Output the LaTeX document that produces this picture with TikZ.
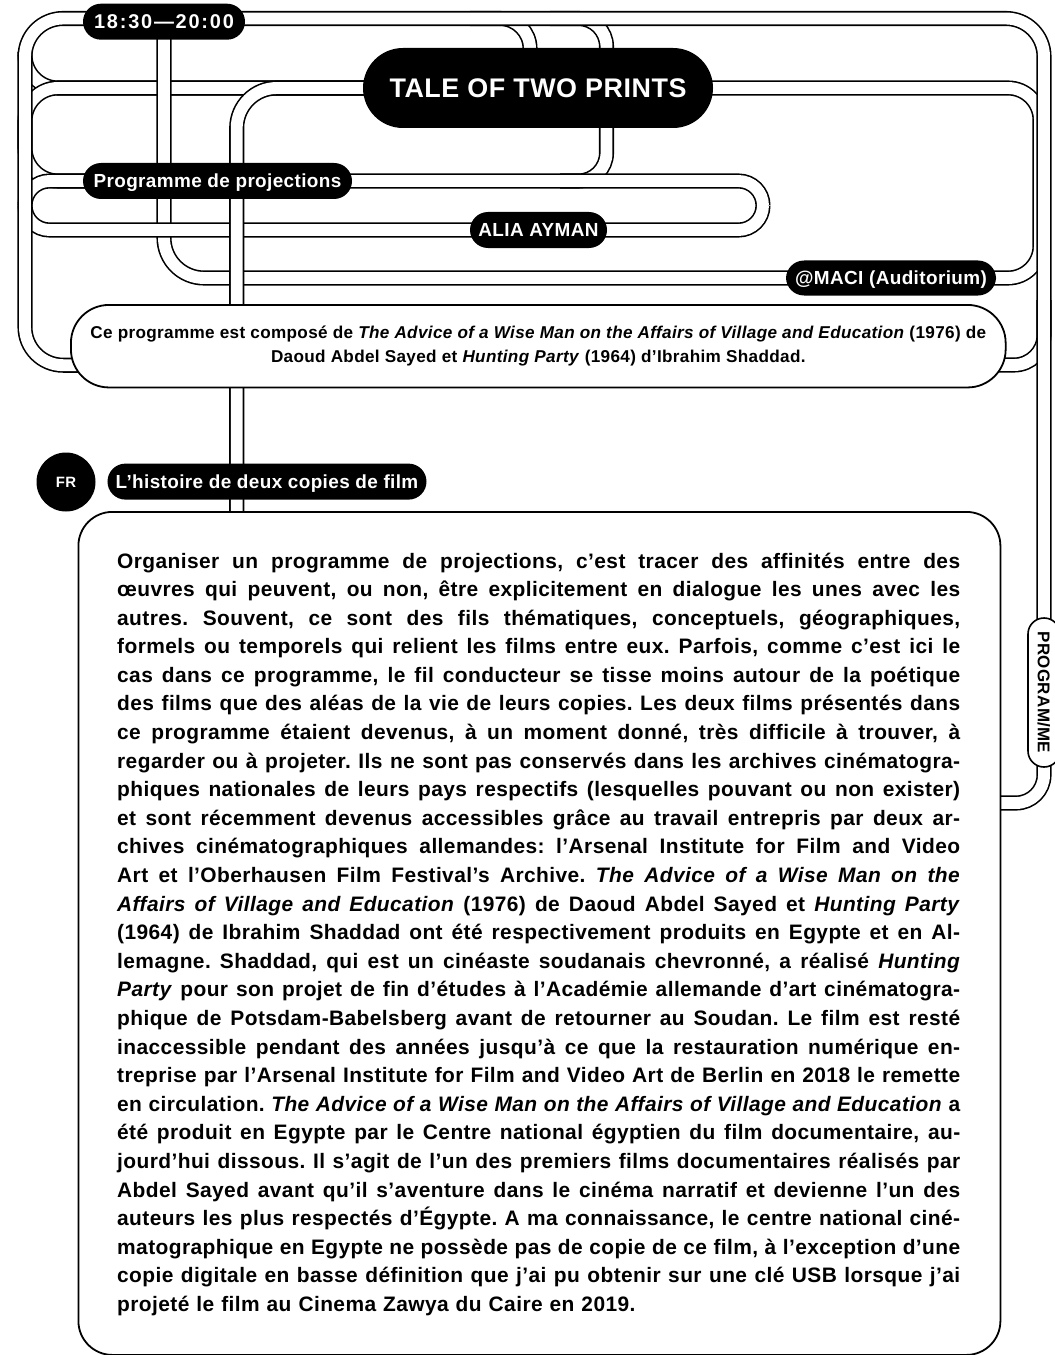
\documentclass[tikz,border=0pt]{standalone}
\usepackage{fontspec}
\setmainfont{Liberation Sans}[LetterSpace=2]
\usetikzlibrary{backgrounds}

\tikzset{
  track/.style={draw=black, line width=1.6bp, double=white, double distance=11.9bp, rounded corners=#1},
  track/.default=38bp,
  pill/.style={fill=black, text=white, rounded corners=18bp, inner sep=0pt, minimum height=36bp,
    text height=13.6bp, text depth=0bp, font=\bfseries\fontsize{19}{19}\selectfont},
  panel/.style={draw=black, fill=white, line width=1.8bp, rounded corners=#1},
  panel/.default=36bp,
}
\newcommand{\jline}[1]{\noindent\hbox to 843bp{\frenchspacing\spaceskip=0.26em plus 1em minus 0.1em\relax #1}\par}

\begin{document}
\begin{tikzpicture}[x=1bp, y=-1bp]
  \useasboundingbox (0,0) rectangle (1054,1355);

  \node[pill, minimum width=162bp, font=\bfseries\fontsize{20}{20}\selectfont] (time) at (164,21.7)
    {\addfontfeature{LetterSpace=9}18:30—20:00};
  \node[pill, minimum width=350bp, minimum height=80bp, rounded corners=40bp, text height=19.3bp,
    font=\bfseries\fontsize{27}{27}\selectfont] (tale) at (538,88) {TALE OF TWO PRINTS};
  \node[pill, minimum width=269bp] (prog) at (217.5,181) {Programme de projections};
  \node[pill, minimum width=137bp] (alia) at (538.5,230) {ALIA AYMAN};
  \node[pill, minimum width=210bp, minimum height=35bp] (maci) at (891,278) {@MACI (Auditorium)};
  \node[panel=38bp, minimum width=934.7bp, minimum height=82.5bp, inner sep=0pt, align=center,
    font=\bfseries\fontsize{17.2}{24}\selectfont] (cebox) at (538.3,346.2)
    {Ce programme est composé de \textit{The Advice of a Wise Man on the Affairs of Village and Education} (1976) de\\
     Daoud Abdel Sayed et \textit{Hunting Party} (1964) d’Ibrahim Shaddad.};
  \node[circle, fill=black, text=white, minimum size=59bp, inner sep=0pt,
    font=\bfseries\fontsize{15}{15}\selectfont] (fr) at (66,482) {FR};
  \node[pill, minimum width=319bp] (hist) at (267,481.6) {L’histoire de deux copies de film};
  \node[panel=34bp, minimum width=922bp, minimum height=843bp, anchor=north west] (mainbox) at (77.5,511) {};
  \node[anchor=base west, inner sep=0pt, text width=843bp,
    font=\bfseries\fontsize{21}{28.7}\selectfont] (body) at (117,568) {%
    \jline{Organiser un programme de projections, c’est tracer des affinités entre des}
    \jline{œuvres qui peuvent, ou non, être explicitement en dialogue les unes avec les}
    \jline{autres. Souvent, ce sont des fils thématiques, conceptuels, géographiques,}
    \jline{formels ou temporels qui relient les films entre eux. Parfois, comme c’est ici le}
    \jline{cas dans ce programme, le fil conducteur se tisse moins autour de la poétique}
    \jline{des films que des aléas de la vie de leurs copies. Les deux films présentés dans}
    \jline{ce programme étaient devenus, à un moment donné, très difficile à trouver, à}
    \jline{regarder ou à projeter. Ils ne sont pas conservés dans les archives cinématogra-}
    \jline{phiques nationales de leurs pays respectifs (lesquelles pouvant ou non exister)}
    \jline{et sont récemment devenus accessibles grâce au travail entrepris par deux ar-}
    \jline{chives cinématographiques allemandes: l’Arsenal Institute for Film and Video}
    \jline{Art et l’Oberhausen Film Festival’s Archive. \textit{The Advice of a Wise Man on the}}
    \jline{\textit{Affairs of Village and Education} (1976) de Daoud Abdel Sayed et \textit{Hunting Party}}
    \jline{(1964) de Ibrahim Shaddad ont été respectivement produits en Egypte et en Al-}
    \jline{lemagne. Shaddad, qui est un cinéaste soudanais chevronné, a réalisé \textit{Hunting}}
    \jline{\textit{Party} pour son projet de fin d’études à l’Académie allemande d’art cinématogra-}
    \jline{phique de Potsdam-Babelsberg avant de retourner au Soudan. Le film est resté}
    \jline{inaccessible pendant des années jusqu’à ce que la restauration numérique en-}
    \jline{treprise par l’Arsenal Institute for Film and Video Art de Berlin en 2018 le remette}
    \jline{en circulation. \textit{The Advice of a Wise Man on the Affairs of Village and Education} a}
    \jline{été produit en Egypte par le Centre national égyptien du film documentaire, au-}
    \jline{jourd’hui dissous. Il s’agit de l’un des premiers films documentaires réalisés par}
    \jline{Abdel Sayed avant qu’il s’aventure dans le cinéma narratif et devienne l’un des}
    \jline{auteurs les plus respectés d’Égypte. A ma connaissance, le centre national ciné-}
    \jline{matographique en Egypte ne possède pas de copie de ce film, à l’exception d’une}
    \jline{copie digitale en basse définition que j’ai pu obtenir sur une clé USB lorsque j’ai}
    \noindent\hbox{projeté le film au Cinema Zawya du Caire en 2019.}};
  \node[pill, fill=white, text=black, draw=black, line width=1.6bp, rotate=-90, minimum width=149bp,
    minimum height=32bp, rounded corners=16bp, text height=12.2bp,
    font=\bfseries\fontsize{17}{17}\selectfont] (progme) at (1044,692.5) {PROGRAM/ME};

  \begin{scope}[on background layer]
    % spurs that run into the top line
    \draw[track=30bp] (530,70) -- (530,18.5) -- (470,18.5);
    \draw[track=28bp] (560,181) -- (606.5,181) -- (606.5,18.5) -- (550,18.5);
    \draw[track=30bp] (990,365) -- (1044,365) -- (1044,300);
    \draw[track=32bp] (tale.center) -- (1040,88) -- (1040,278) -- (maci.center);
    % loops on the left
    \draw[track=33bp] (tale.center) -- (25,88) -- (25,52);
    \draw[track=33bp] (tale.center) -- (25,88) -- (25,181) -- (prog.center);
    \draw[track=40bp] (time.center) |- (maci.center);
    \draw[track=24.5bp] (prog.center) -- (25,181) -- (25,230) -- (alia.center);
    % main line
    \draw[track] ([yshift=-19bp]cebox.center) -- (25,365.2) -- (25,18.5) -- (1044,18.5) -- (progme.center);
    \draw[track=24.5bp] (prog.center) -- (763,181) -- (763,230) -- (alia.center);
    \draw[track=40bp] (236.7,530) -- (236.7,88) -- (tale.center);
    \draw[track=28bp] (progme.center) -- (1044,803) -- (980,803);
  \end{scope}
\end{tikzpicture}
\end{document}
